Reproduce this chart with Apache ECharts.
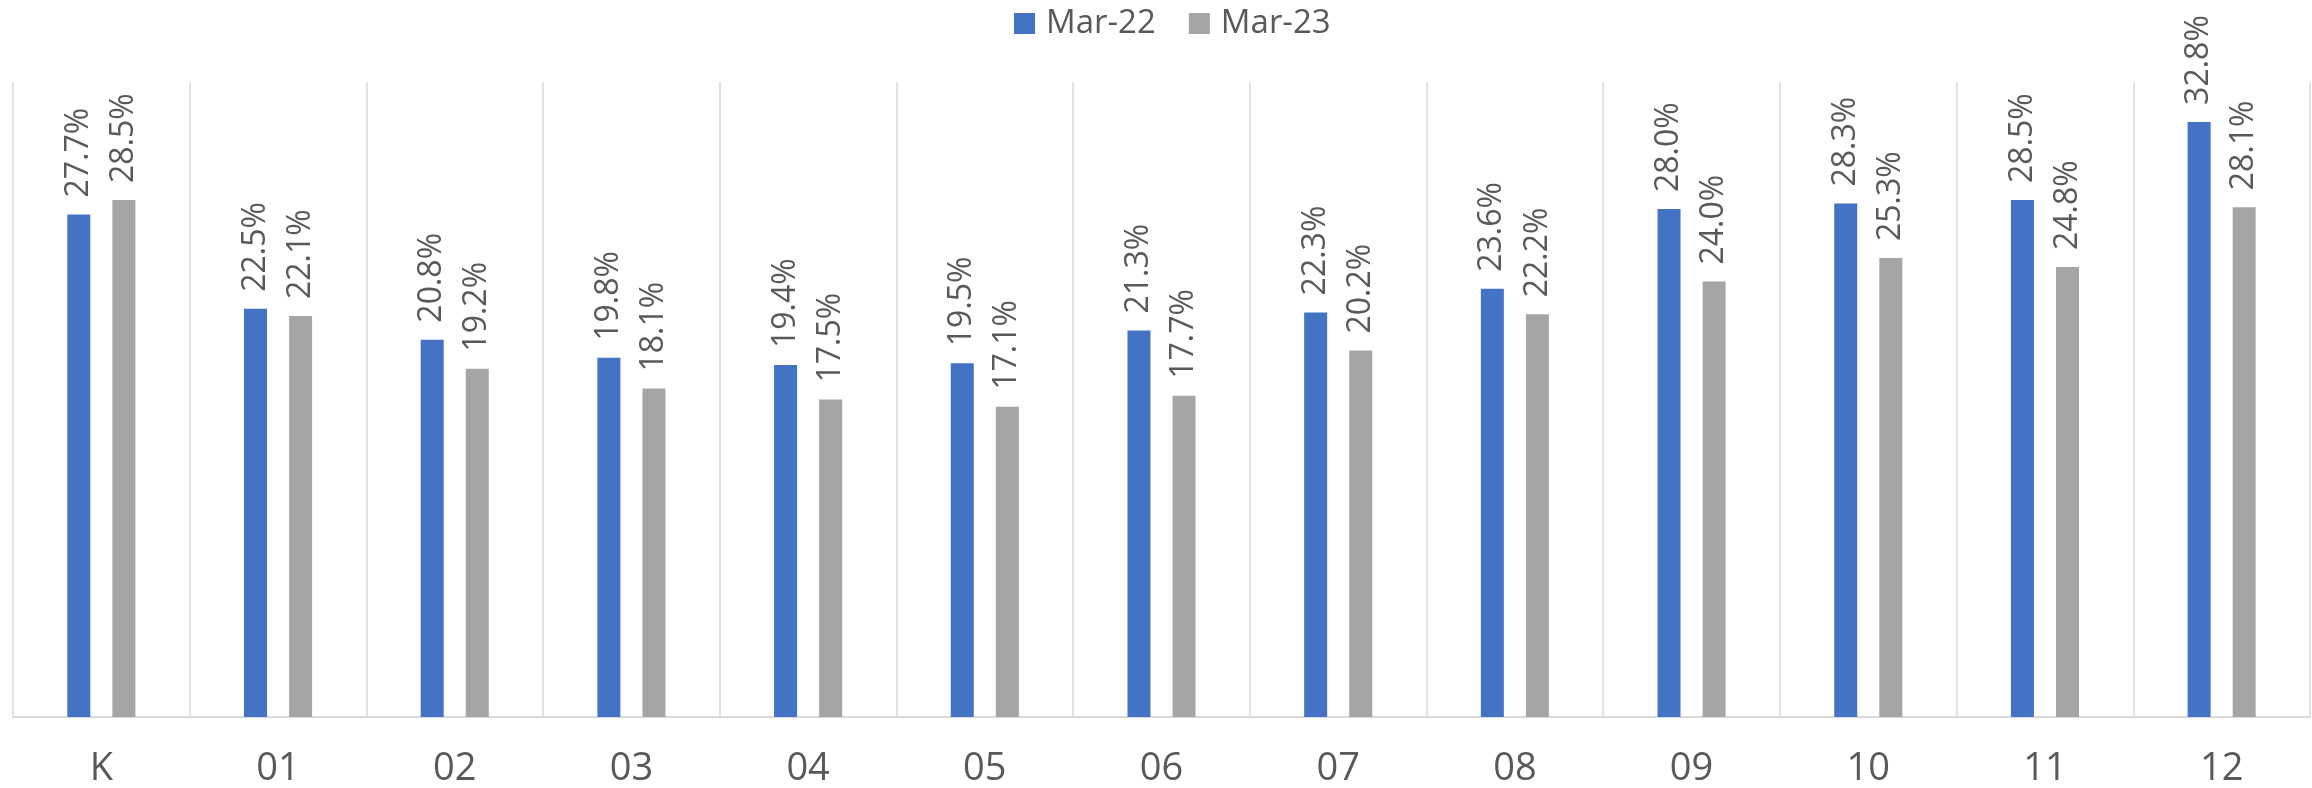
<!DOCTYPE html>
<html>
<head>
<meta charset="utf-8">
<script src="https://cdn.jsdelivr.net/npm/echarts@6/dist/echarts.min.js"></script>
<style>
html,body{margin:0;padding:0;background:#fff;}
#chart{width:2312px;height:788px;}
</style>
</head>
<body>
<div id="chart"></div>
<script>
const categories = ['K','01','02','03','04','05','06','07','08','09','10','11','12'];
const seriesNames = ['Mar-22','Mar-23'];
const mar22 = [27.7,22.5,20.8,19.8,19.4,19.5,21.3,22.3,23.6,28.0,28.3,28.5,32.8];
const mar23 = [28.5,22.1,19.2,18.1,17.5,17.1,17.7,20.2,22.2,24.0,25.3,24.8,28.1];

const FONT = '"Open Sans", "Liberation Sans", sans-serif';
const TEXT = '#595959';

const labelCfg = {
  show: true,
  position: 'top',
  rotate: 90,
  align: 'left',
  verticalAlign: 'middle',
  distance: 17,
  color: TEXT,
  fontFamily: FONT,
  fontSize: 32,
  formatter: p => p.value.toFixed(1) + '%'
};

const chart = echarts.init(document.getElementById('chart'), null, {renderer: 'canvas'});
chart.setOption({
  animation: false,
  backgroundColor: '#ffffff',
  legend: {
    data: seriesNames,
    left: 1009,
    top: 2,
    itemWidth: 21,
    itemHeight: 21,
    itemGap: 33,
    icon: 'rect',
    textStyle: {color: TEXT, fontFamily: FONT, fontSize: 33, padding: [0,0,0,6]}
  },
  grid: {left: 13, right: 2, top: 82, bottom: 71, containLabel: false},
  xAxis: {
    type: 'category',
    data: categories,
    boundaryGap: true,
    axisLine: {show: true, lineStyle: {color: '#D9D9D9', width: 2}},
    axisTick: {show: false},
    splitLine: {show: true, lineStyle: {color: '#E3E3E3', width: 2}},
    axisLabel: {color: TEXT, fontFamily: FONT, fontSize: 38, margin: 33}
  },
  yAxis: {
    type: 'value',
    min: 0,
    max: 35,
    show: false,
    splitLine: {show: false}
  },
  series: [
    {
      name: seriesNames[0],
      type: 'bar',
      data: mar22,
      barWidth: 23,
      barGap: '96%',
      itemStyle: {color: '#4472C4'},
      label: labelCfg
    },
    {
      name: seriesNames[1],
      type: 'bar',
      data: mar23,
      barWidth: 23,
      barGap: '96%',
      itemStyle: {color: '#A5A5A5'},
      label: labelCfg
    }
  ]
});
</script>
</body>
</html>
